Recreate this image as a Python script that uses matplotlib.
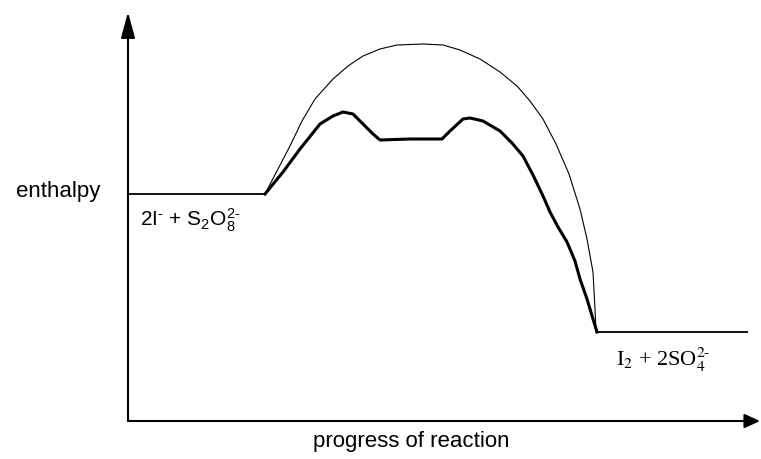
import matplotlib
matplotlib.use("Agg")
import matplotlib.pyplot as plt

plt.rcParams['font.family'] = ['Liberation Sans', 'DejaVu Sans']
plt.rcParams['mathtext.fontset'] = 'custom'
plt.rcParams['mathtext.rm'] = 'Liberation Sans'
plt.rcParams['mathtext.it'] = 'Liberation Sans'

# levels (progress, enthalpy)
reactant_x = [0, 137]
reactant_y = [227, 227]
product_x = [468, 620]
product_y = [89, 89]

# uncatalysed path (thin)
uncat_x = [137, 150, 162, 174, 187, 205, 220, 235, 252, 269, 295, 315, 332,
           352, 372, 389, 402, 415, 428, 441, 452, 459, 465, 467, 468]
uncat_y = [227, 252, 275, 300, 322, 342, 355, 365, 372, 376, 377, 376, 371,
           362, 349, 335, 320, 302, 277, 247, 212, 182, 149, 112, 89]

# catalysed path (thick)
cat_x = [137, 155, 172, 192, 205, 215, 225, 235, 245, 252, 282, 314, 322, 335,
         342, 355, 372, 384, 395, 405, 415, 422, 430, 439, 447, 452, 459, 465, 469]
cat_y = [227, 249, 272, 297, 305, 309, 307, 297, 287, 281, 282, 282, 290, 302,
         303, 300, 290, 278, 265, 246, 225, 209, 194, 179, 160, 142, 122, 102, 89]

fig = plt.figure(figsize=(7.61, 4.6), dpi=100)
ax = fig.add_axes([128 / 761, 38 / 460, 632 / 761, 409 / 460])
ax.set_xlim(0, 632)
ax.set_ylim(0, 409)
ax.axis('off')

ax.plot(reactant_x, reactant_y, color='black', lw=1.3, solid_capstyle='butt')
ax.plot(product_x, product_y, color='black', lw=1.3, solid_capstyle='butt')
ax.plot(uncat_x, uncat_y, color='black', lw=0.8)
ax.plot(cat_x, cat_y, color='black', lw=2.2, solid_joinstyle='round')

# axes with arrow heads
ax.annotate('', xy=(0, 1), xytext=(0, 0), xycoords='axes fraction',
            arrowprops=dict(arrowstyle='-|>,head_length=15.8,head_width=4.3',
                            mutation_scale=1, lw=1.5, color='black',
                            shrinkA=0, shrinkB=0), annotation_clip=False)
ax.annotate('', xy=(1, 0), xytext=(0, 0), xycoords='axes fraction',
            arrowprops=dict(arrowstyle='-|>,head_length=9.4,head_width=4.3',
                            mutation_scale=1, lw=1.5, color='black',
                            shrinkA=0, shrinkB=0), annotation_clip=False)

ax.text(-28, 231, 'enthalpy', fontsize=16, ha='right', va='center', clip_on=False)
ax.text(185, -20, 'progress of reaction', fontsize=16, ha='left', va='center',
        clip_on=False)
ax.text(12, 202, r'2I$^{\text{-}}$ + S$_2$O$_8^{2\text{-}}$', fontsize=15,
        ha='left', va='center', math_fontfamily='custom')
ax.text(488, 62, r'I$_2$ + 2SO$_4^{2\text{-}}$', fontsize=16, ha='left',
        va='center', family='Liberation Serif', math_fontfamily='stix')

fig.savefig('out.png', dpi=100)
